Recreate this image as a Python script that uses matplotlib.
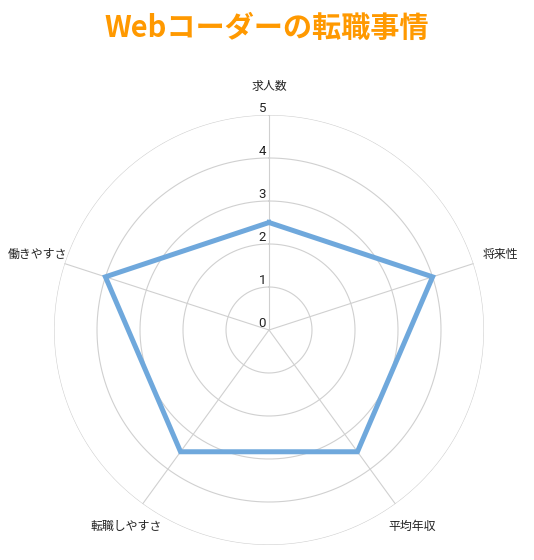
import numpy as np
import matplotlib
matplotlib.use("Agg")
import matplotlib.pyplot as plt

plt.rcParams['font.family'] = ['Noto Sans CJK JP', 'DejaVu Sans']

title = "Webコーダーの転職事情"
categories = ["求人数", "将来性", "平均年収", "転職しやすさ", "働きやすさ"]
values = [2.5, 4, 3.5, 3.5, 4]
ticks = [0, 1, 2, 3, 4, 5]

W, H = 534, 560
fig = plt.figure(figsize=(W/100, H/100), dpi=100)
cx, cy, R = 269, 330, 215
ax = fig.add_axes([(cx-R)/W, (H-cy-R)/H, 2*R/W, 2*R/H], projection='polar')
ax.set_theta_zero_location('N')
ax.set_theta_direction(-1)
ax.set_ylim(0, 5)
ax.axis('off')

n = len(categories)
angles = np.linspace(0, 2*np.pi, n, endpoint=False)
gc = '#d0d0d0'
tt = np.linspace(0, 2*np.pi, 400)
for t in ticks[1:]:
    ax.plot(tt, np.full_like(tt, t), color=gc, lw=0.8, zorder=1)
for a in angles:
    ax.plot([a, a], [0, 5], color=gc, lw=0.8, zorder=1)

vals = values + values[:1]
angs = list(angles) + [angles[0]]
ax.plot(angs, vals, color='#6fa8dc', lw=3.6, zorder=3, solid_joinstyle='miter')

for t in ticks:
    ax.annotate(str(t), xy=(0, t), xytext=(-2, 0), textcoords='offset points',
                ha='right', va='bottom', fontsize=9.5, family=['Roboto', 'DejaVu Sans'],
                color='#222222', zorder=4)

for a, c in zip(angles, categories):
    ax.text(a, 5.66, c, ha='center', va='center', fontsize=8.6, color='#222222')

fig.text(0.5, 1 - 28/H, title, ha='center', va='center', fontsize=21,
         fontweight='bold', color='#ff9900')

fig.savefig('out.png', dpi=100)
